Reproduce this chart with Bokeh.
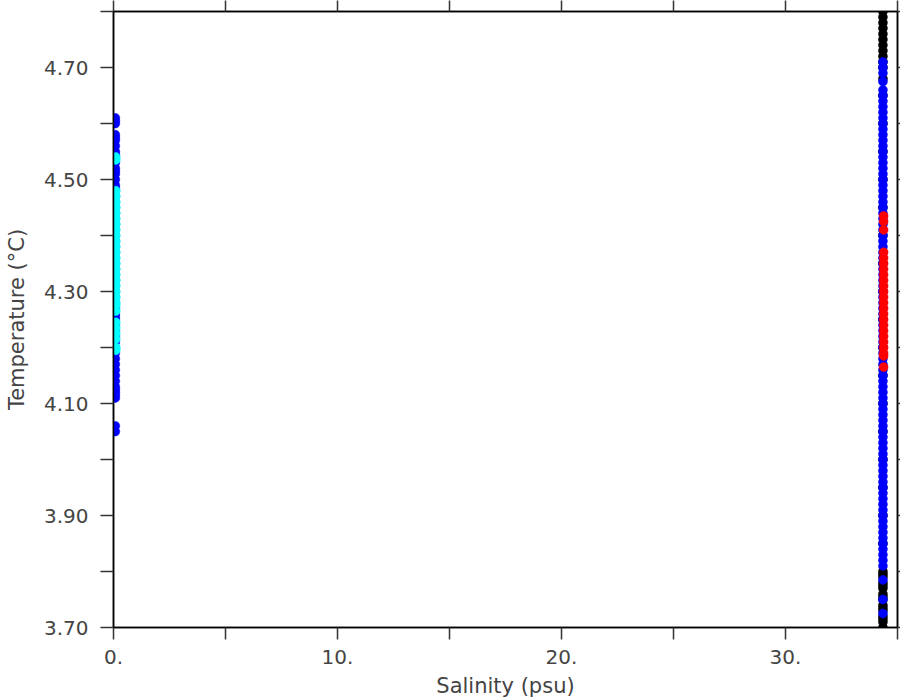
from bokeh.plotting import figure
from bokeh.models import FixedTicker, LinearAxis, NumeralTickFormatter, ColumnDataSource, Range1d
from bokeh.embed import file_html
from bokeh.resources import INLINE

# ---- data ----
x_ticks = [0, 10, 20, 30]
x_minor = [5, 15, 25, 35]
x_labels = ["0.", "10.", "20.", "30."]
y_ticks = [3.7, 3.9, 4.1, 4.3, 4.5, 4.7]
y_minor = [3.8, 4.0, 4.2, 4.4, 4.6, 4.8]
x_all = [0, 5, 10, 15, 20, 25, 30, 35]
y_all = [3.7, 3.8, 3.9, 4.0, 4.1, 4.2, 4.3, 4.4, 4.5, 4.6, 4.7, 4.8]

left_blue_sal = 0.08
left_blue_temp = [4.61, 4.605, 4.60, 4.58, 4.575, 4.57, 4.56, 4.55, 4.545, 4.54, 4.53, 4.52,
                  4.515, 4.51, 4.50, 4.49, 4.485, 4.48, 4.47, 4.46, 4.45, 4.44, 4.43, 4.42,
                  4.41, 4.40, 4.39, 4.38, 4.37, 4.36, 4.35, 4.34, 4.33, 4.32, 4.31, 4.30,
                  4.29, 4.28, 4.27, 4.26, 4.255, 4.25, 4.24, 4.23, 4.22, 4.21, 4.20, 4.19,
                  4.18, 4.17, 4.16, 4.15, 4.14, 4.13, 4.125, 4.12, 4.115, 4.11, 4.06, 4.05]

left_cyan_sal = 0.10
left_cyan_temp = [4.54, 4.535, 4.48, 4.47, 4.46, 4.45, 4.44, 4.43, 4.42, 4.41, 4.40, 4.39,
                  4.38, 4.37, 4.36, 4.35, 4.34, 4.33, 4.32, 4.31, 4.30, 4.29, 4.28, 4.275,
                  4.265, 4.245, 4.235, 4.225, 4.215, 4.20, 4.195]

right_black_sal = 34.35
right_black_temp = [4.82, 4.81, 4.80, 4.79, 4.78, 4.77, 4.76, 4.75, 4.74, 4.73, 4.72, 4.71,
                    4.70, 4.68, 4.65, 4.60, 4.55, 4.50, 4.45, 4.40, 4.35, 4.30, 4.25, 4.20,
                    4.15, 4.10, 4.05, 4.00, 3.95, 3.90, 3.85, 3.80, 3.795, 3.79, 3.78, 3.775,
                    3.77, 3.76, 3.755, 3.75, 3.74, 3.735, 3.73, 3.72, 3.715, 3.71, 3.70]

right_blue_sal = 34.35
right_blue_temp = [4.71, 4.70, 4.69, 4.675, 4.66, 4.65, 4.64, 4.63, 4.62, 4.61, 4.60, 4.59,
                   4.58, 4.57, 4.56, 4.55, 4.54, 4.53, 4.52, 4.51, 4.50, 4.49, 4.48, 4.47,
                   4.46, 4.45, 4.44, 4.43, 4.42, 4.41, 4.40, 4.39, 4.38, 4.37, 4.36, 4.35,
                   4.34, 4.33, 4.32, 4.31, 4.30, 4.29, 4.28, 4.27, 4.26, 4.25, 4.24, 4.23,
                   4.22, 4.21, 4.20, 4.19, 4.18, 4.17, 4.16, 4.15, 4.14, 4.13, 4.12, 4.11,
                   4.10, 4.09, 4.08, 4.07, 4.06, 4.05, 4.04, 4.03, 4.02, 4.01, 4.00, 3.99,
                   3.98, 3.97, 3.96, 3.95, 3.94, 3.93, 3.92, 3.91, 3.90, 3.89, 3.88, 3.87,
                   3.86, 3.85, 3.84, 3.83, 3.82, 3.81, 3.785, 3.75, 3.725]

right_red_sal = 34.38
right_red_temp = [4.435, 4.425, 4.41, 4.37, 4.36, 4.35, 4.34, 4.33, 4.32, 4.31, 4.30, 4.29,
                  4.28, 4.27, 4.26, 4.25, 4.24, 4.23, 4.22, 4.21, 4.20, 4.19, 4.185, 4.165]

series = [
    (left_blue_sal, left_blue_temp, "#0000ff"),
    (left_cyan_sal, left_cyan_temp, "#00ffff"),
    (right_black_sal, right_black_temp, "#000000"),
    (right_blue_sal, right_blue_temp, "#0000ff"),
    (right_red_sal, right_red_temp, "#ff0000"),
]

FONT = "DejaVu Sans"
TXT = "#444444"

p = figure(width=900, height=700, output_backend="svg", toolbar_location=None,
           x_range=Range1d(0, 35), y_range=Range1d(3.70, 4.80),
           min_border_left=113, min_border_right=3, min_border_top=11, min_border_bottom=72,
           x_axis_label="Salinity (psu)", y_axis_label="Temperature (°C)")

p.background_fill_color = "white"
p.border_fill_color = "white"
p.outline_line_color = "black"
p.outline_line_width = 1.5
p.xgrid.visible = False
p.ygrid.visible = False

for sal, temps, col in series:
    src = ColumnDataSource(dict(x=[sal] * len(temps), y=temps))
    p.scatter("x", "y", source=src, size=9, fill_color=col, line_color=col, line_width=0.5)

def style_axis(ax, tick_len):
    ax.axis_line_color = "black"
    ax.axis_line_width = 1.5
    ax.major_tick_line_color = "#333333"
    ax.minor_tick_line_color = "#333333"
    ax.major_tick_line_width = 1.5
    ax.minor_tick_line_width = 1.5
    ax.major_tick_in = 0
    ax.minor_tick_in = 0
    ax.major_tick_out = tick_len
    ax.minor_tick_out = tick_len
    ax.major_label_text_font = FONT
    ax.major_label_text_color = TXT
    ax.axis_label_text_font = FONT
    ax.axis_label_text_color = TXT
    ax.axis_label_text_font_style = "normal"

xa = p.xaxis[0]
style_axis(xa, 12)
xa.ticker = FixedTicker(ticks=x_ticks, minor_ticks=x_minor)
xa.major_label_overrides = {t: l for t, l in zip(x_ticks, x_labels)}
xa.major_label_text_font_size = "20px"
xa.major_label_standoff = 10
xa.axis_label_text_font_size = "21px"
xa.axis_label_standoff = 7

ya = p.yaxis[0]
style_axis(ya, 13)
ya.ticker = FixedTicker(ticks=y_ticks, minor_ticks=y_minor)
ya.formatter = NumeralTickFormatter(format="0.00")
ya.major_label_text_font_size = "20px"
ya.major_label_standoff = 12
ya.axis_label_text_font_size = "21px"
ya.axis_label_standoff = 12

top = LinearAxis(ticker=FixedTicker(ticks=[], minor_ticks=x_all))
style_axis(top, 11)
p.add_layout(top, "above")

right = LinearAxis(ticker=FixedTicker(ticks=[], minor_ticks=y_all))
style_axis(right, 3)
p.add_layout(right, "right")

open("out.html", "w").write(file_html(p, INLINE))
